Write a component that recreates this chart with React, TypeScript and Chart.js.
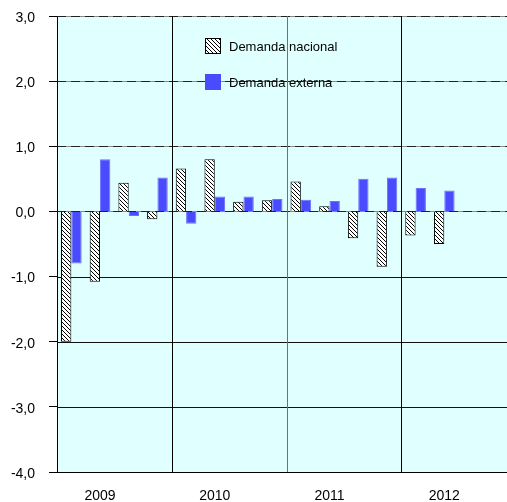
import React, { useEffect, useRef } from 'react';
import { Chart, registerables } from 'chart.js';

Chart.register(...registerables);

const categories = [
  '2009 I', '2009 II', '2009 III', '2009 IV',
  '2010 I', '2010 II', '2010 III', '2010 IV',
  '2011 I', '2011 II', '2011 III', '2011 IV',
  '2012 I', '2012 II', '2012 III', '2012 IV',
];
const yearLabels = ['2009', '2010', '2011', '2012'];
const demandaNacional = [-2.0, -1.08, 0.44, -0.12, 0.66, 0.8, 0.15, 0.17, 0.46, 0.08, -0.41, -0.85, -0.37, -0.5, null, null];
const demandaExterna = [-0.8, 0.8, -0.07, 0.52, -0.19, 0.23, 0.23, 0.19, 0.18, 0.16, 0.5, 0.52, 0.36, 0.32, null, null];
const seriesNames = ['Demanda nacional', 'Demanda externa'];
const yMin = -4;
const yMax = 3;

const FONT = 'Arial, "Liberation Sans", sans-serif';
const BLUE = '#4a4aff';

function makeHatch(ctx: CanvasRenderingContext2D): CanvasPattern | string {
  const c = document.createElement('canvas');
  c.width = 4;
  c.height = 4;
  const g = c.getContext('2d');
  if (!g) return '#fff';
  g.fillStyle = '#fff';
  g.fillRect(0, 0, 4, 4);
  g.fillStyle = '#000';
  for (let i = 0; i < 4; i++) g.fillRect(i, i, 1, 1);
  return ctx.createPattern(c, 'repeat') || '#fff';
}

export default function App() {
  const ref = useRef<HTMLCanvasElement | null>(null);

  useEffect(() => {
    const canvas = ref.current;
    if (!canvas) return;
    const ctx = canvas.getContext('2d');
    if (!ctx) return;
    const hatch = makeHatch(ctx);

    const bgPlugin = {
      id: 'bg',
      beforeDraw(chart: any) {
        const { ctx: c, chartArea: a } = chart;
        c.save();
        c.fillStyle = '#e0ffff';
        c.fillRect(a.left, a.top, a.right - a.left, a.bottom - a.top);
        c.restore();
      },
    };

    const gridPlugin = {
      id: 'customGrid',
      beforeDatasetsDraw(chart: any) {
        const { ctx: c, chartArea: a, scales } = chart;
        const y = scales.y;
        const x = scales.x;
        c.save();
        for (let v = yMin + 1; v <= yMax; v++) {
          const py = Math.round(y.getPixelForValue(v)) + 0.5;
          if (v >= 0) {
            c.strokeStyle = '#8a8a8a';
            c.lineWidth = 1;
            c.setLineDash([]);
            c.beginPath();
            c.moveTo(a.left, py);
            c.lineTo(a.right, py);
            c.stroke();
            c.strokeStyle = '#222';
            c.setLineDash([9, 5]);
            c.beginPath();
            c.moveTo(a.left, py);
            c.lineTo(a.right, py);
            c.stroke();
          } else {
            c.strokeStyle = '#111';
            c.lineWidth = 1;
            c.setLineDash([]);
            c.beginPath();
            c.moveTo(a.left, py);
            c.lineTo(a.right, py);
            c.stroke();
          }
        }
        c.setLineDash([]);
        for (let i = 4; i < categories.length; i += 4) {
          const px = Math.round((x.getPixelForValue(i - 1) + x.getPixelForValue(i)) / 2) + 0.5;
          c.strokeStyle = i === 8 ? '#707070' : '#000';
          c.lineWidth = 1;
          c.beginPath();
          c.moveTo(px, a.top);
          c.lineTo(px, a.bottom);
          c.stroke();
        }
        c.restore();
      },
    };

    const legendPlugin = {
      id: 'customLegend',
      afterDatasetsDraw(chart: any) {
        const { ctx: c, chartArea: a } = chart;
        const fills = [hatch, BLUE];
        const boxX = a.left + 148;
        const tops = [a.top + 22, a.top + 58];
        c.save();
        c.font = `13px ${FONT}`;
        c.textBaseline = 'middle';
        c.textAlign = 'left';
        for (let i = 0; i < seriesNames.length; i++) {
          c.fillStyle = fills[i] as any;
          c.fillRect(boxX, tops[i], 16, 16);
          if (i === 0) {
            c.strokeStyle = '#000';
            c.lineWidth = 1;
            c.strokeRect(boxX + 0.5, tops[i] + 0.5, 15, 15);
          }
          c.fillStyle = '#000';
          c.fillText(seriesNames[i], boxX + 24, tops[i] + 9);
        }
        c.restore();
      },
    };

    const chart = new Chart(canvas, {
      type: 'bar',
      data: {
        labels: categories,
        datasets: [
          {
            label: seriesNames[0],
            data: demandaNacional as any,
            backgroundColor: hatch as any,
            borderColor: '#000',
            borderWidth: 1,
            categoryPercentage: 0.72,
            barPercentage: 1,
          },
          {
            label: seriesNames[1],
            data: demandaExterna as any,
            backgroundColor: BLUE,
            borderColor: '#6e6eff',
            borderWidth: 1,
            categoryPercentage: 0.72,
            barPercentage: 1,
          },
        ],
      },
      options: {
        responsive: false,
        animation: false,
        devicePixelRatio: 1,
        layout: { padding: { top: 16, right: 4, left: 0, bottom: 0 } },
        plugins: {
          legend: { display: false },
          tooltip: { enabled: false },
        },
        scales: {
          x: {
            grid: { display: false, drawTicks: false },
            border: { display: true, color: '#000', width: 1 },
            ticks: {
              autoSkip: false,
              maxRotation: 0,
              minRotation: 0,
              padding: 16,
              color: '#000',
              font: { family: FONT, size: 14 },
              callback: (_v: any, index: number) => (index % 4 === 1 ? yearLabels[Math.floor(index / 4)] : ''),
            },
            afterFit: (scale: any) => {
              scale.height = 30;
              scale.paddingLeft = 0;
              scale.paddingRight = 0;
            },
          },
          y: {
            min: yMin,
            max: yMax,
            grid: { drawOnChartArea: false, drawTicks: true, tickLength: 8, tickColor: '#000' },
            border: { display: true, color: '#000', width: 1 },
            ticks: {
              stepSize: 1,
              padding: 14,
              labelOffset: 2,
              color: '#000',
              font: { family: FONT, size: 14 },
              callback: (v: any) => Number(v).toFixed(1).replace('.', ','),
            },
            afterFit: (scale: any) => {
              scale.width = 57;
              scale.paddingTop = 0;
              scale.paddingBottom = 0;
            },
          },
        },
      },
      plugins: [bgPlugin, gridPlugin, legendPlugin],
    });

    return () => chart.destroy();
  }, []);

  return (
    <div
      style={{
        position: 'fixed',
        left: 0,
        top: 0,
        width: 507,
        height: 502,
        overflow: 'hidden',
        background: '#fff',
      }}
    >
      <canvas ref={ref} width={520} height={502} style={{ display: 'block', width: 520, height: 502 }} />
    </div>
  );
}
